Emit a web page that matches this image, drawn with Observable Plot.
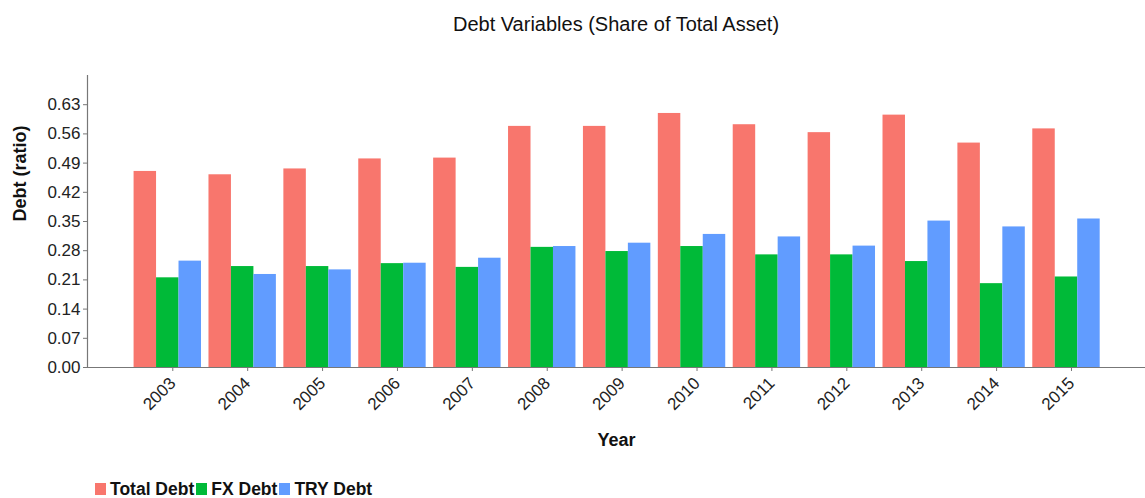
<!DOCTYPE html>
<html>
<head>
<meta charset="utf-8">
<script src="https://cdn.jsdelivr.net/npm/d3@7"></script>
<script src="https://cdn.jsdelivr.net/npm/@observablehq/plot@0.6"></script>
<style>
  html, body { margin: 0; padding: 0; background: #fff; }
  body { width: 1145px; height: 498px; overflow: hidden; font-family: "Liberation Sans", Arial, sans-serif; }
  #title { height: 60px; box-sizing: border-box; padding-top: 12px; padding-left: 87px; text-align: center; font-size: 20px; line-height: 24px; color: #111; }
  #legend { height: 38px; box-sizing: border-box; padding-top: 20px; padding-left: 95px; display: flex; align-items: center; font-size: 17.5px; font-weight: bold; color: #111; }
  #legend .sw { width: 11px; height: 12px; display: inline-block; margin-right: 4px; }
  #legend .item { display: flex; align-items: center; margin-right: 2px; }
</style>
</head>
<body>
<div id="title">Debt Variables (Share of Total Asset)</div>
<div id="chart"></div>
<div id="legend"></div>
<script>
const years = [2003, 2004, 2005, 2006, 2007, 2008, 2009, 2010, 2011, 2012, 2013, 2014, 2015];
const totalDebt = [0.470, 0.462, 0.476, 0.500, 0.502, 0.578, 0.578, 0.609, 0.582, 0.563, 0.605, 0.538, 0.572];
const fxDebt    = [0.215, 0.242, 0.242, 0.249, 0.240, 0.288, 0.278, 0.290, 0.270, 0.270, 0.254, 0.201, 0.217];
const tryDebt   = [0.255, 0.223, 0.234, 0.250, 0.262, 0.290, 0.298, 0.319, 0.313, 0.291, 0.351, 0.337, 0.356];
const seriesNames = ["Total Debt", "FX Debt", "TRY Debt"];
const seriesColors = ["#F8766D", "#00BA38", "#619CFF"];
const yTicks = [0, 0.07, 0.14, 0.21, 0.28, 0.35, 0.42, 0.49, 0.56, 0.63];
const xDomain = [2001.928, 2016.055];
const yDomain = [0, 0.70];

const seriesValues = [totalDebt, fxDebt, tryDebt];
const groupWidth = 0.9;
const barW = groupWidth / seriesNames.length;
const rows = [];
seriesNames.forEach((s, k) => {
  years.forEach((yr, i) => {
    rows.push({year: yr, series: s, k, value: seriesValues[k][i]});
  });
});

const chart = Plot.plot({
  width: 1145,
  height: 400,
  marginLeft: 87,
  marginRight: 0,
  marginTop: 15,
  marginBottom: 93,
  style: {fontFamily: "Liberation Sans, Arial, sans-serif", fontSize: "17px", background: "#fff"},
  x: {type: "linear", domain: xDomain, axis: null},
  y: {domain: yDomain, axis: null},
  color: {domain: seriesNames, range: seriesColors},
  marks: [
    Plot.rect(rows, {
      x1: d => d.year - groupWidth / 2 + d.k * barW,
      x2: d => d.year - groupWidth / 2 + (d.k + 1) * barW,
      y1: 0,
      y2: "value",
      fill: "series"
    }),
    Plot.ruleY([0], {stroke: "#777", strokeWidth: 1.2}),
    Plot.ruleX([xDomain[0]], {stroke: "#777", strokeWidth: 1.2, y1: yDomain[0], y2: yDomain[1]}),
    Plot.axisY({ticks: yTicks, tickFormat: d3.format(".2f"), tickSize: 4, tickPadding: 3, stroke: "#777", fill: "#222", fontSize: 17, label: null}),
    Plot.axisX({ticks: years, tickFormat: d3.format("d"), tickSize: 4, tickRotate: -45, tickPadding: 9, dx: 5, stroke: "#777", fill: "#222", fontSize: 17, label: null}),
    Plot.text(["Debt (ratio)"], {frameAnchor: "left", rotate: -90, dx: -67, fontWeight: "bold", fontSize: 18, fill: "#111", lineAnchor: "middle"}),
    Plot.text(["Year"], {frameAnchor: "bottom", dy: 73, fontWeight: "bold", fontSize: 18, fill: "#111", lineAnchor: "middle"})
  ]
});
document.getElementById("chart").appendChild(chart);

const legend = document.getElementById("legend");
seriesNames.forEach((s, k) => {
  const item = document.createElement("span");
  item.className = "item";
  const sw = document.createElement("span");
  sw.className = "sw";
  sw.style.background = seriesColors[k];
  item.appendChild(sw);
  const t = document.createElement("span");
  t.textContent = s;
  item.appendChild(t);
  legend.appendChild(item);
});
</script>
</body>
</html>
